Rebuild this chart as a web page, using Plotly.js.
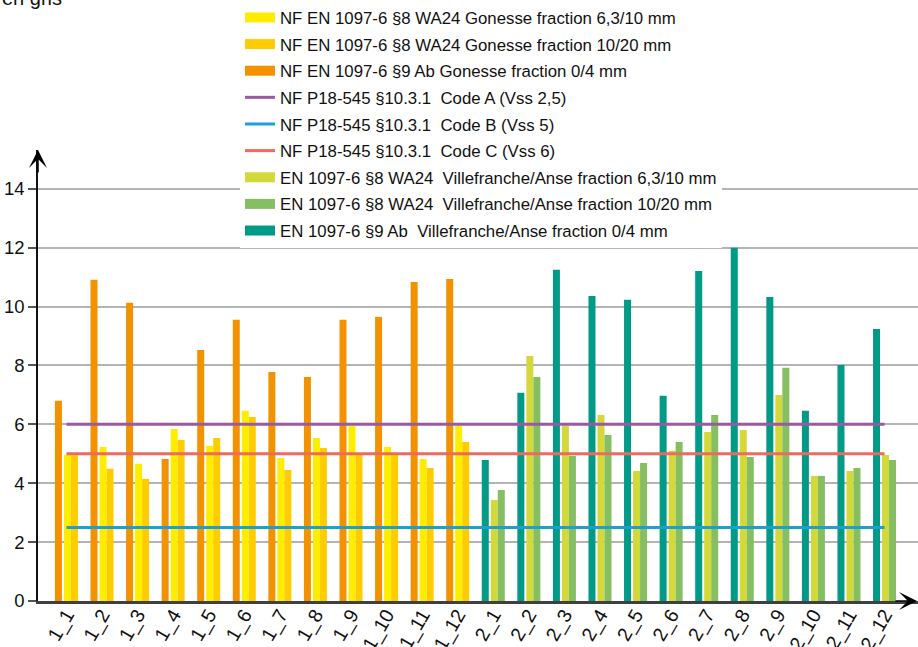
<!DOCTYPE html>
<html>
<head>
<meta charset="utf-8">
<script src="https://cdn.plot.ly/plotly-3.0.1.min.js"></script>
<style>html,body{margin:0;padding:0;background:#fff;}#chart{width:918px;height:647px;}</style>
</head>
<body>
<div id="chart"></div>
<script>
// Categories
var cats1 = ['1_1','1_2','1_3','1_4','1_5','1_6','1_7','1_8','1_9','1_10','1_11','1_12'];
var cats2 = ['2_1','2_2','2_3','2_4','2_5','2_6','2_7','2_8','2_9','2_10','2_11','2_12'];
var allCats = cats1.concat(cats2);

// Gonesse series
var nf63   = [4.97, 5.23, 4.66, 5.84, 5.27, 6.46, 4.86, 5.54, 5.95, 5.23, 4.82, 5.95];
var nf1020 = [4.95, 4.49, 4.15, 5.47, 5.54, 6.25, 4.45, 5.20, 4.96, 5.03, 4.52, 5.40];
var nf04   = [6.80, 10.91, 10.13, 4.82, 8.53, 9.55, 7.78, 7.61, 9.55, 9.65, 10.84, 10.94];

// Villefranche/Anse series
var vf63   = [3.43, 8.32, 5.95, 6.32, 4.42, 5.10, 5.74, 5.81, 7.00, 4.25, 4.42, 4.96];
var vf1020 = [3.77, 7.61, 4.93, 5.64, 4.69, 5.40, 6.32, 4.89, 7.92, 4.25, 4.52, 4.79];
var vf04   = [4.79, 7.07, 11.25, 10.36, 10.23, 6.97, 11.21, 12.00, 10.33, 6.46, 8.02, 9.24];

// Threshold lines
var codeA = 6;
var codeB = 2.5;
var codeC = 5;

// Names
var names = [
  'NF EN 1097-6 §8 WA24 Gonesse fraction 6,3/10 mm',
  'NF EN 1097-6 §8 WA24 Gonesse fraction 10/20 mm',
  'NF EN 1097-6 §9 Ab Gonesse fraction 0/4 mm',
  'NF P18-545 §10.3.1\u00a0 Code A (Vss 2,5)',
  'NF P18-545 §10.3.1\u00a0 Code B (Vss 5)',
  'NF P18-545 §10.3.1\u00a0 Code C (Vss 6)',
  'EN 1097-6 §8 WA24\u00a0 Villefranche/Anse fraction 6,3/10 mm',
  'EN 1097-6 §8 WA24\u00a0 Villefranche/Anse fraction 10/20 mm',
  'EN 1097-6 §9 Ab\u00a0 Villefranche/Anse fraction 0/4 mm'
];

var C = {
  yellow: '#FFED00', gold: '#FFCC00', orange: '#F39200',
  purple: '#9B59A2', blue: '#1AA0D2', red: '#EE6A60',
  yg: '#D3D93A', green: '#86BE62', teal: '#009A87'
};

var W = 0.197, OFF0 = -0.324, OFF1 = -0.071, OFF2 = 0.126;

function bar(x, y, color, off, name) {
  return {type: 'bar', x: x, y: y, name: name, marker: {color: color, line: {width: 0}},
          width: W, offset: off, showlegend: false, hoverinfo: 'x+y'};
}
function line(val, color, name) {
  return {type: 'scatter', mode: 'lines', x: [allCats[0], allCats[allCats.length - 1]], y: [val, val],
          name: name, line: {color: color, width: 3}, showlegend: false};
}
function proxy(color, name, w, grp) {
  return {type: 'scatter', mode: 'lines', x: [null], y: [null], name: name, legendgroup: grp,
          line: {color: color, width: w}, showlegend: true, hoverinfo: 'skip'};
}

var data = [
  bar(cats1, nf04, C.orange, OFF0, names[2]),
  bar(cats1, nf63, C.yellow, OFF1, names[0]),
  bar(cats1, nf1020, C.gold, OFF2, names[1]),
  bar(cats2, vf04, C.teal, OFF0, names[8]),
  bar(cats2, vf63, C.yg, OFF1, names[6]),
  bar(cats2, vf1020, C.green, OFF2, names[7]),
  line(codeA, C.purple, names[3]),
  line(codeC, C.red, names[5]),
  line(codeB, C.blue, names[4]),
  proxy(C.yellow, names[0], 12, 'g0'),
  proxy(C.gold, names[1], 12, 'g1'),
  proxy(C.orange, names[2], 12, 'g2'),
  proxy(C.purple, names[3], 3, 'g3'),
  proxy(C.blue, names[4], 3, 'g4'),
  proxy(C.red, names[5], 3, 'g5'),
  proxy(C.yg, names[6], 12, 'g6'),
  proxy(C.green, names[7], 12, 'g7'),
  proxy(C.teal, names[8], 12, 'g8')
];

var FONT = 'Liberation Sans, Arial, sans-serif';

var layout = {
  width: 918, height: 647,
  margin: {l: 38, r: 0, t: 150, b: 46, pad: 0, autoexpand: false},
  paper_bgcolor: '#ffffff', plot_bgcolor: '#ffffff',
  font: {family: FONT, color: '#111111'},
  barmode: 'overlay',
  showlegend: true,
  legend: {
    xref: 'container', yref: 'container', x: 240 / 918, y: 1, xanchor: 'left', yanchor: 'top',
    bgcolor: '#ffffff', borderwidth: 0, font: {family: FONT, size: 16.8, color: '#111111'},
    traceorder: 'grouped', tracegroupgap: 1.8
  },
  xaxis: {
    type: 'category', categoryorder: 'array', categoryarray: allCats,
    range: [-0.80, 23.94], showgrid: false, zeroline: false,
    showline: true, linecolor: '#404040', linewidth: 2.5,
    ticks: '', tickangle: -60, ticklabelstandoff: -8,
    tickfont: {family: FONT, size: 19.5, color: '#111111'}
  },
  yaxis: {
    range: [0, 15.32], tickvals: [0, 2, 4, 6, 8, 10, 12, 14],
    showgrid: true, gridcolor: '#b4b4b4', gridwidth: 1.5, zeroline: false,
    showline: true, linecolor: '#111111', linewidth: 1.5,
    ticks: 'outside', ticklen: 8, tickcolor: '#555555', tickwidth: 1.5,
    tickfont: {family: FONT, size: 18.5, color: '#111111'}
  },
  annotations: [
    {xref: 'paper', yref: 'paper', x: 0, y: 1, ax: 0, ay: 24, text: '', showarrow: true,
     arrowhead: 3, arrowsize: 2, arrowwidth: 1.5, arrowcolor: '#000000', standoff: 0},
    {xref: 'paper', yref: 'paper', x: 1, y: 0, ax: -24, ay: 0, text: '', showarrow: true,
     arrowhead: 3, arrowsize: 2, arrowwidth: 1.5, arrowcolor: '#000000', standoff: 0},
    {xref: 'paper', yref: 'paper', x: -38 / 880, y: (601 - 11) / 451, xanchor: 'left', yanchor: 'bottom',
     text: 'en gris', showarrow: false, font: {family: FONT, size: 20, color: '#111111'}}
  ]
};

Plotly.newPlot('chart', data, layout, {displayModeBar: false, responsive: false});
</script>
</body>
</html>
